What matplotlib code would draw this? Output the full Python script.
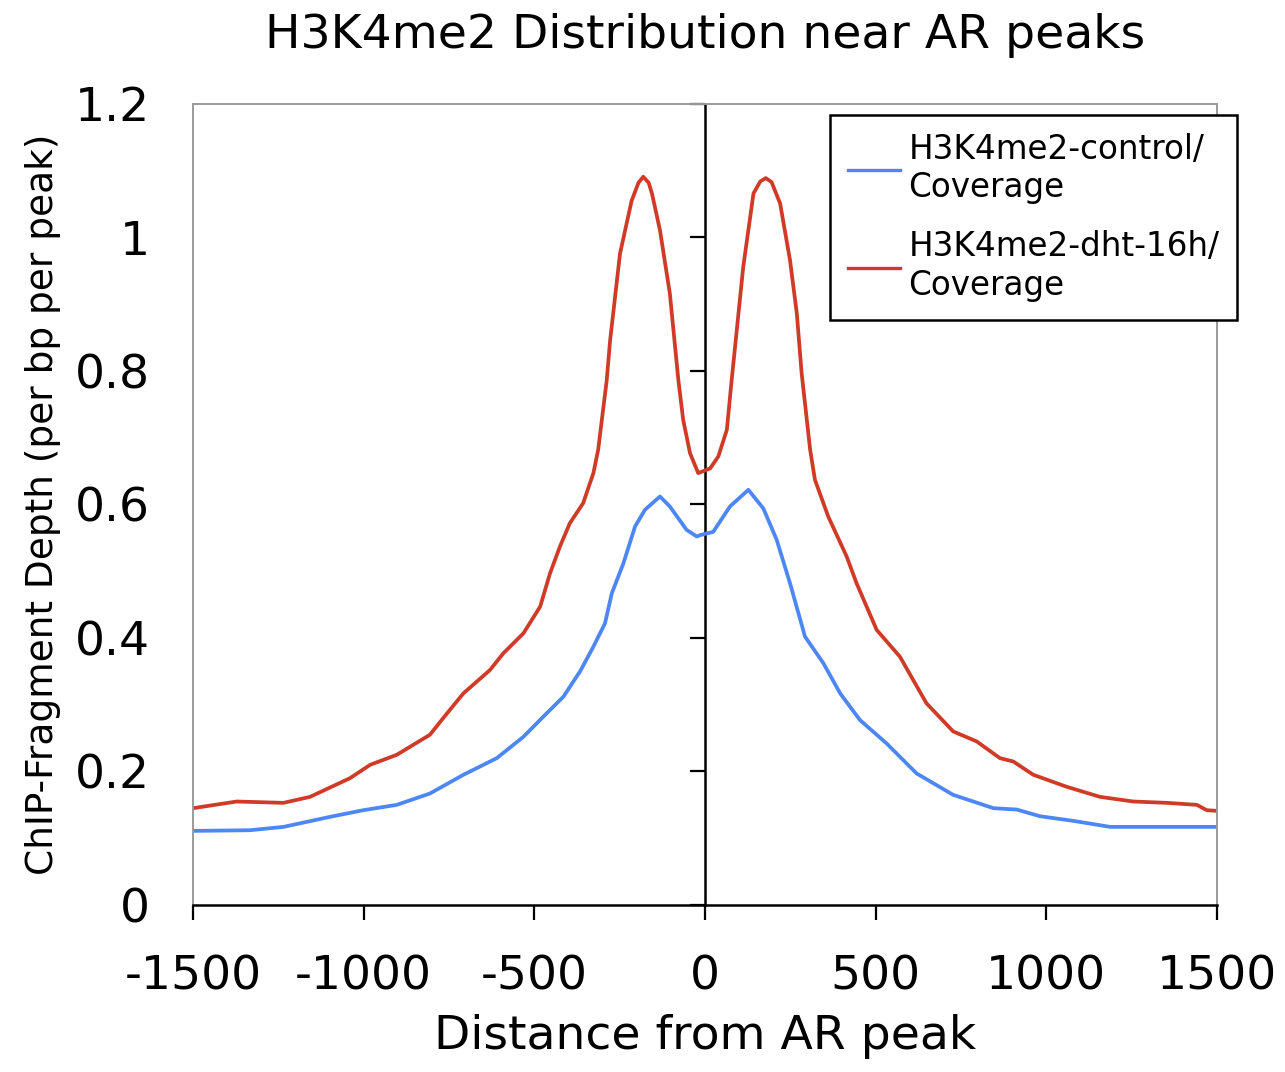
import matplotlib
matplotlib.use("Agg")
import matplotlib.pyplot as plt

# Distance from AR peak (bp) and mean fragment depth, control sample
control_x = [-1500, -1333, -1235, -1099, -1001, -903, -806, -708, -610, -532,
             -474, -415, -366, -327, -293, -273, -239, -205, -176, -132,
             -103, -54, -24, -15, 24, 73, 127, 171, 210, 249,
             293, 347, 396, 454, 532, 620, 727, 845, 913, 981,
             1079, 1187, 1304, 1500]
control_y = [0.111, 0.112, 0.117, 0.132, 0.142, 0.150, 0.167, 0.195, 0.220, 0.252,
             0.282, 0.312, 0.350, 0.387, 0.422, 0.467, 0.512, 0.567, 0.592, 0.612,
             0.597, 0.562, 0.552, 0.554, 0.559, 0.597, 0.622, 0.594, 0.547, 0.482,
             0.402, 0.362, 0.317, 0.277, 0.242, 0.197, 0.165, 0.145, 0.143, 0.133,
             0.126, 0.117, 0.117, 0.117]

# Distance from AR peak (bp) and mean fragment depth, DHT 16h sample
dht_x = [-1500, -1372, -1235, -1157, -1040, -981, -903, -806, -767, -708,
         -630, -591, -532, -483, -454, -425, -396, -357, -327, -313,
         -288, -278, -249, -215, -195, -181, -165, -155, -132, -103,
         -78, -64, -44, -20, 15, 39, 64, 78, 112, 142,
         162, 178, 195, 220, 249, 269, 283, 308, 322, 361,
         415, 444, 503, 571, 649, 727, 796, 864, 903, 962,
         1060, 1157, 1255, 1353, 1441, 1470, 1500]
dht_y = [0.145, 0.155, 0.153, 0.162, 0.190, 0.210, 0.225, 0.255, 0.280, 0.317,
         0.352, 0.377, 0.407, 0.447, 0.497, 0.537, 0.572, 0.602, 0.647, 0.682,
         0.786, 0.846, 0.976, 1.055, 1.082, 1.091, 1.082, 1.065, 1.011, 0.916,
         0.786, 0.727, 0.677, 0.647, 0.654, 0.672, 0.712, 0.786, 0.956, 1.066,
         1.084, 1.089, 1.083, 1.051, 0.966, 0.886, 0.797, 0.682, 0.637, 0.582,
         0.522, 0.482, 0.412, 0.372, 0.302, 0.260, 0.245, 0.220, 0.215, 0.195,
         0.177, 0.162, 0.155, 0.153, 0.150, 0.142, 0.141]

x_ticks = [-1500, -1000, -500, 0, 500, 1000, 1500]
y_ticks = [0, 0.2, 0.4, 0.6, 0.8, 1.0, 1.2]
y_tick_labels = ["0", "0.2", "0.4", "0.6", "0.8", "1", "1.2"]

BLUE = "#4d86f5"
RED = "#cf3b27"

plt.rcParams["font.family"] = ["DejaVu Sans"]

fig = plt.figure(figsize=(12.85, 10.72), dpi=100)
ax = fig.add_axes([0.1502, 0.1558, 0.7969, 0.7472])

ax.plot(control_x, control_y, color=BLUE, lw=2.7,
        label="H3K4me2-control/\nCoverage")
ax.plot(dht_x, dht_y, color=RED, lw=2.7,
        label="H3K4me2-dht-16h/\nCoverage")

ax.set_xlim(-1500, 1500)
ax.set_ylim(0, 1.2)

# Frame: grey box, black bottom axis
for side in ("left", "top", "right"):
    ax.spines[side].set_color("#9a9a9a")
    ax.spines[side].set_linewidth(1.4)
ax.spines["bottom"].set_color("black")
ax.spines["bottom"].set_linewidth(1.8)

ax.set_xticks(x_ticks)
ax.set_xticklabels([str(v) for v in x_ticks])
ax.tick_params(axis="x", direction="out", length=11, width=1.6,
               labelsize=34, pad=25, color="black")

ax.set_yticks(y_ticks)
ax.set_yticklabels(y_tick_labels)
ax.tick_params(axis="y", length=0, labelsize=34, pad=31)

# Vertical axis crossing at zero, with ticks pointing left
mid = ax.secondary_yaxis(0.5)
for sp in mid.spines.values():
    sp.set_color("black")
    sp.set_linewidth(1.8)
mid.set_yticks(y_ticks)
mid.set_yticklabels([])
mid.yaxis.set_tick_params(which="both", left=False, right=True,
                          labelleft=False, labelright=False,
                          direction="in", length=11, width=1.6,
                          color="black")

ax.set_title("H3K4me2 Distribution near AR peaks", fontsize=34, pad=40)
ax.set_xlabel("Distance from AR peak", fontsize=34, labelpad=10)
ax.set_ylabel("ChIP-Fragment Depth (per bp per peak)", fontsize=27, labelpad=10)

leg = ax.legend(loc="upper left", bbox_to_anchor=(0.622, 0.986),
                fontsize=23.5, frameon=True, fancybox=False, framealpha=1,
                edgecolor="black", handlelength=1.6, handletextpad=0.25,
                labelspacing=0.8, borderpad=0.55, borderaxespad=0)
leg.get_frame().set_linewidth(1.8)
for line in leg.get_lines():
    line.set_linewidth(2.4)

fig.savefig("out.png", dpi=100, facecolor="white")
